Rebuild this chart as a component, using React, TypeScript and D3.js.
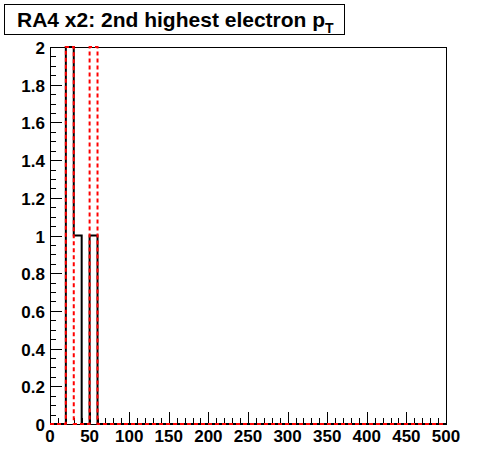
import React from "react";
import * as d3 from "d3";

const binEdgesStart = 0;
const binWidth = 10;
const blackValues = [0, 0, 2, 1, 0, 1, 0, 0, 0, 0, 0, 0, 0, 0, 0, 0, 0, 0, 0, 0, 0, 0, 0, 0, 0, 0, 0, 0, 0, 0, 0, 0, 0, 0, 0, 0, 0, 0, 0, 0, 0, 0, 0, 0, 0, 0, 0, 0, 0, 0];
const redValues = [0, 0, 2, 0, 0, 2, 0, 0, 0, 0, 0, 0, 0, 0, 0, 0, 0, 0, 0, 0, 0, 0, 0, 0, 0, 0, 0, 0, 0, 0, 0, 0, 0, 0, 0, 0, 0, 0, 0, 0, 0, 0, 0, 0, 0, 0, 0, 0, 0, 0];
const xTickValues = [0, 50, 100, 150, 200, 250, 300, 350, 400, 450, 500];
const yTickValues = [0, 0.2, 0.4, 0.6, 0.8, 1, 1.2, 1.4, 1.6, 1.8, 2];
const titleMain = "RA4 x2: 2nd highest electron p";
const titleSub = "T";

const W = 496, H = 472;
const L = 50, R = 446, T = 47, B = 424;

function stepPath(values: number[], x: d3.ScaleLinear<number, number>, y: d3.ScaleLinear<number, number>) {
  const pts: [number, number][] = [];
  pts.push([x(binEdgesStart), y(0)]);
  values.forEach((v, i) => {
    const x0 = binEdgesStart + i * binWidth;
    pts.push([x(x0), y(v)]);
    pts.push([x(x0 + binWidth), y(v)]);
  });
  pts.push([x(binEdgesStart + values.length * binWidth), y(0)]);
  return d3.line()(pts) || "";
}

export default function App() {
  const x = d3.scaleLinear().domain([0, 500]).range([L, R]);
  const y = d3.scaleLinear().domain([0, 2]).range([B, T]);
  const xMinor = d3.range(0, 501, 10);
  const yMinor = d3.range(0, 2.0001, 0.05);
  const font = "'Liberation Sans', Arial, Helvetica, sans-serif";
  return (
    <svg width={W} height={H} style={{ position: "absolute", left: 0, top: 0, background: "#fff" }}>
      <rect x={0} y={0} width={W} height={H} fill="#fff" />
      {/* title box */}
      <rect x={4.5} y={4.5} width={340} height={30} fill="#fff" stroke="#000" strokeWidth={1} />
      <text x={17} y={27} fontFamily={font} fontWeight="bold" fontSize={21} fill="#000">
        {titleMain}
        <tspan fontSize={14} dy={6}>{titleSub}</tspan>
      </text>
      {/* frame */}
      <rect x={L + 0.5} y={T + 0.5} width={R - L} height={B - T} fill="none" stroke="#000" strokeWidth={1} />
      {/* y ticks */}
      {yMinor.map((v, i) => {
        const major = i % 4 === 0;
        const yy = Math.round(y(v)) + 0.5;
        return <line key={"ym" + i} x1={L} x2={L + (major ? 12 : 6)} y1={yy} y2={yy} stroke="#000" strokeWidth={1} />;
      })}
      {yTickValues.map((v) => (
        <text key={"yl" + v} x={45} y={y(v) + 7} textAnchor="end" fontFamily={font} fontWeight="bold" fontSize={17} fill="#000">
          {d3.format("~g")(v)}
        </text>
      ))}
      {/* x ticks */}
      {xMinor.map((v, i) => {
        const major = i % 5 === 0;
        const xx = Math.round(x(v)) + 0.5;
        return <line key={"xm" + i} x1={xx} x2={xx} y1={B} y2={B - (major ? 12 : 6)} stroke="#000" strokeWidth={1} />;
      })}
      {xTickValues.map((v) => (
        <text key={"xl" + v} x={x(v)} y={442} textAnchor="middle" fontFamily={font} fontWeight="bold" fontSize={17} fill="#000">
          {v}
        </text>
      ))}
      {/* histograms */}
      <path d={stepPath(blackValues, x, y)} fill="none" stroke="#000" strokeWidth={2} />
      <path d={stepPath(redValues, x, y)} fill="none" stroke="#ff0000" strokeWidth={2} strokeDasharray="4,3" />
    </svg>
  );
}
